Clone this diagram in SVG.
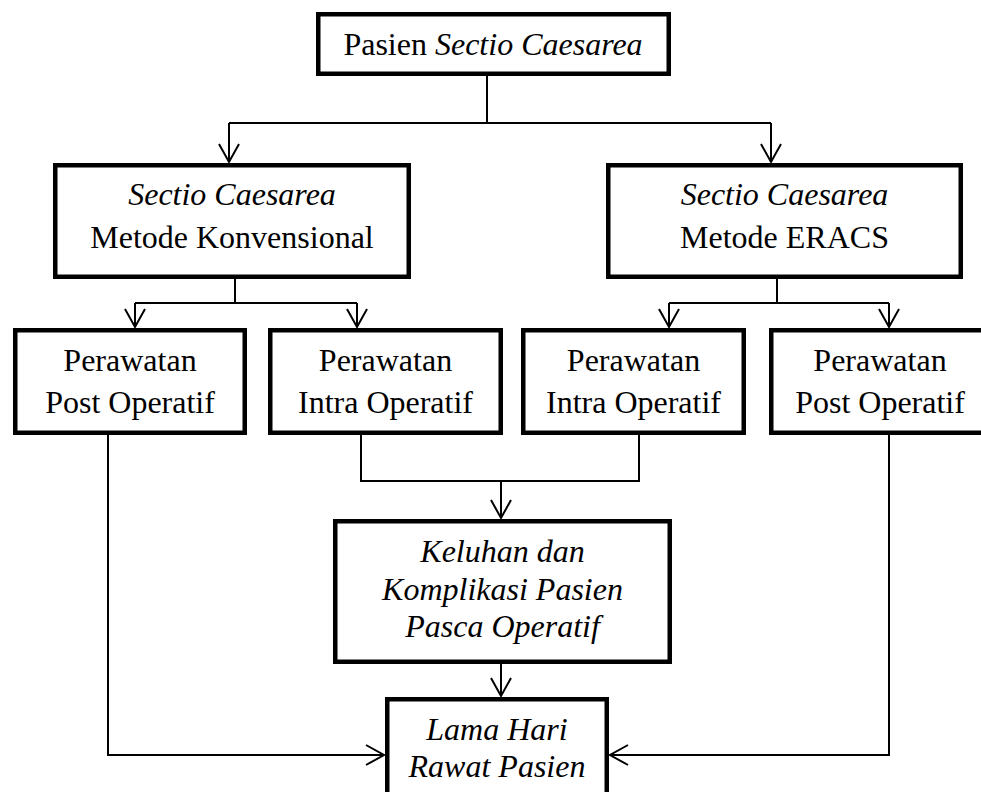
<svg xmlns="http://www.w3.org/2000/svg" width="981" height="792" viewBox="0 0 981 792">
<style>
.box{fill:#fff;stroke:#000;stroke-width:4.5}
.t{font-family:"Liberation Serif","Times New Roman",serif;font-size:32px;fill:#000;text-anchor:middle}
.i{font-style:italic}
.c{fill:none;stroke:#000;stroke-width:2}
.a{marker-end:url(#arr)}
</style>
<defs>
<marker id="arr" markerUnits="userSpaceOnUse" markerWidth="24" markerHeight="24" viewBox="-20 -12 22 24" refX="0" refY="0" orient="auto">
<path d="M-18,-10 L0,0 L-18,10" fill="none" stroke="#000" stroke-width="2"/>
</marker>
</defs>
<rect width="981" height="792" fill="#fff"/>
<g id="connectors">
<path class="c" d="M487,76 V123 M229,123 H771"/>
<path class="c a" d="M229,123 V162"/>
<path class="c a" d="M771,123 V162"/>
<path class="c" d="M235,279 V303 M135,303 H357"/>
<path class="c a" d="M135,303 V327"/>
<path class="c a" d="M357,303 V327"/>
<path class="c" d="M777,279 V303 M669,303 H889"/>
<path class="c a" d="M669,303 V327"/>
<path class="c a" d="M889,303 V327"/>
<path class="c a" d="M108,435 V755 H384"/>
<path class="c a" d="M889,435 V755 H610"/>
<path class="c" d="M361,435 V481 H639 V435"/>
<path class="c a" d="M501,481 V518"/>
<path class="c a" d="M501,664 V696"/>
</g>
<g id="n_top">
<rect class="box" x="318.25" y="14.25" width="350.5" height="59.5"/>
<text class="t" x="493" y="55">Pasien <tspan class="i">Sectio Caesarea</tspan></text>
</g>
<g id="n_konv">
<rect class="box" x="55.25" y="165.25" width="353.5" height="111.5"/>
<text class="t i" x="232" y="205">Sectio Caesarea</text>
<text class="t" x="232" y="248">Metode Konvensional</text>
</g>
<g id="n_eracs">
<rect class="box" x="608.25" y="165.25" width="352.5" height="111.5"/>
<text class="t i" x="784.5" y="205">Sectio Caesarea</text>
<text class="t" x="784.5" y="248">Metode ERACS</text>
</g>
<g id="n_postL">
<rect class="box" x="15.25" y="330.25" width="229.5" height="102.5"/>
<text class="t" x="130" y="371">Perawatan</text>
<text class="t" x="130" y="413">Post Operatif</text>
</g>
<g id="n_intraL">
<rect class="box" x="270.25" y="330.25" width="230.5" height="102.5"/>
<text class="t" x="385.5" y="371">Perawatan</text>
<text class="t" x="385.5" y="413">Intra Operatif</text>
</g>
<g id="n_intraR">
<rect class="box" x="523.25" y="330.25" width="220.5" height="102.5"/>
<text class="t" x="633.5" y="371">Perawatan</text>
<text class="t" x="633.5" y="413">Intra Operatif</text>
</g>
<g id="n_postR">
<rect class="box" x="771.25" y="330.25" width="217.5" height="102.5"/>
<text class="t" x="880" y="371">Perawatan</text>
<text class="t" x="880" y="413">Post Operatif</text>
</g>
<g id="n_keluhan">
<rect class="box" x="335.25" y="521.25" width="334.5" height="140.5"/>
<text class="t i" x="502.5" y="562">Keluhan dan</text>
<text class="t i" x="502.5" y="600">Komplikasi Pasien</text>
<text class="t i" x="502.5" y="637">Pasca Operatif</text>
</g>
<g id="n_lama">
<rect class="box" x="387.25" y="699.25" width="219.5" height="110"/>
<text class="t i" x="497" y="740">Lama Hari</text>
<text class="t i" x="497" y="777">Rawat Pasien</text>
</g>
</svg>
